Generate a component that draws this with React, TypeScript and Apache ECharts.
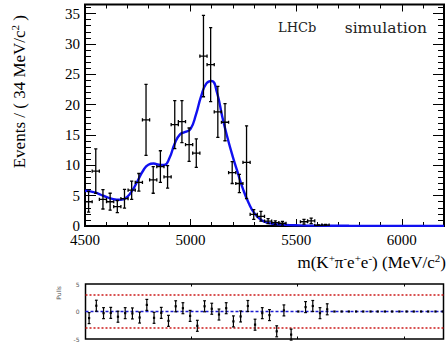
import React, { useEffect, useRef } from 'react';
import * as echarts from 'echarts';

// Binning of the K+ pi- e+ e- invariant mass
const massMin = 4500;
const massMax = 6200;
const pullMassMax = 6187;
const binWidth = 34;

// Weighted event counts per bin (null = empty bin)
const counts: (number | null)[] = [
  4.0, 9.05, 4.4, 4.0, 3.2, 4.5, 5.9, 7.2, 17.5, 7.6,
  9.8, 8.1, 16.7, 17.2, 13.4, 12.0, 28.0, 26.6, 18.8, 17.1,
  8.8, 7.0, 10.5, 1.9, 1.6, 0.8, 0.55, 0.45, null, null,
  0.7, 0.85, 0.1, 0.15,
];
const countErrors: (number | null)[] = [
  1.7, 3.65, 1.6, 1.4, 1.0, 1.55, 1.5, 1.45, 5.85, 2.2,
  2.6, 1.85, 3.95, 3.45, 2.75, 2.35, 6.7, 6.1, 4.2, 3.05,
  1.8, 1.5, 6.0, 0.8, 0.8, 0.4, 0.3, 0.3, null, null,
  0.4, 0.45, 0.1, 0.12,
];

// Fitted model curve
const curveMass = [
  4500, 4525, 4550, 4575, 4600, 4625, 4650, 4675, 4700, 4725,
  4750, 4775, 4800, 4825, 4850, 4875, 4900, 4925, 4950, 4975,
  5000, 5025, 5050, 5075, 5100, 5125, 5150, 5175, 5200, 5225,
  5250, 5275, 5300, 5325, 5350, 5375, 5400, 5450, 5500, 5600,
  5750, 6200,
];
const curveValue = [
  5.8, 5.7, 5.5, 5.15, 4.8, 4.5, 4.32, 4.35, 4.8, 5.9,
  7.5, 9.1, 10.1, 10.3, 10.1, 10.05, 11.2, 13.6, 15.1, 15.5,
  16.0, 18.3, 21.4, 23.5, 23.9, 22.0, 18.0, 14.5, 11.4, 8.6,
  5.9, 3.8, 2.2, 1.25, 0.7, 0.45, 0.3, 0.18, 0.12, 0.06,
  0.03, 0.02,
];

// Pulls per bin and their errors (0 = no entry)
const pullValues = [
  -1.2, 1.05, -0.3, -0.25, -0.95, -0.3, -0.35, -1.1, 1.2, -1.15,
  -0.25, -1.7, 0.95, 0.6, -0.8, -2.6, 0.95, 0.5, -0.55, 0.6,
  -1.8, -0.9, 1.0, -2.4, -0.3, -0.65, -3.6, 0.2, -4.2, 0,
  0.8, 1.0, -0.3, 0.4, 0, 0, 0, 0, 0, 0,
  0, 0, 0, 0, 0, 0, 0, 0, 0, 0,
];
const pullErrors = [
  1, 1, 1, 1, 1, 1, 1, 1, 1, 1,
  1, 1, 1, 1, 1, 1, 1, 1, 1, 1,
  1, 1, 1, 1, 1, 1, 1, 1, 1, 0,
  1, 1, 1, 1, 0, 0, 0, 0, 0, 0,
  0, 0, 0, 0, 0, 0, 0, 0, 0, 0,
];
const pullRefLevels = [-3, 0, 3];

const yTickLabels = [0, 5, 10, 15, 20, 25, 30, 35];
const xTickLabels = [4500, 5000, 5500, 6000];

const SERIF = 'Liberation Serif';

const binCenter = (i: number) => massMin + binWidth * (i + 0.5);

function mainX(position: string, interval: number, len: number, labels: boolean) {
  return {
    type: 'value', gridIndex: 0, position, min: massMin, max: massMax, interval,
    axisLine: { show: false, onZero: false },
    axisTick: { show: true, inside: true, length: len, lineStyle: { color: '#000', width: 1 } },
    axisLabel: {
      show: labels, margin: 6, color: '#000', fontFamily: SERIF, fontSize: 15,
      formatter: (v: number) => (xTickLabels.includes(v) ? String(v) : ''),
    },
    splitLine: { show: false },
  };
}

function mainY(position: string, interval: number, len: number, labels: boolean) {
  return {
    type: 'value', gridIndex: 0, position, min: 0, max: 36.5, interval,
    axisLine: { show: false, onZero: false },
    axisTick: { show: true, inside: true, length: len, lineStyle: { color: '#000', width: 1 } },
    axisLabel: {
      show: labels, margin: 5, color: '#000', fontFamily: SERIF, fontSize: 15,
      formatter: (v: number) => (yTickLabels.includes(v) ? String(v) : ''),
    },
    splitLine: { show: false },
  };
}

function pullX(position: string) {
  return {
    type: 'value', gridIndex: 1, position, min: massMin, max: pullMassMax, interval: 500,
    axisLine: { show: false, onZero: false },
    axisTick: { show: true, inside: true, length: 2.5, lineStyle: { color: '#000', width: 1 } },
    axisLabel: { show: false },
    splitLine: { show: false },
  };
}

export default function App() {
  const ref = useRef<HTMLDivElement>(null);

  useEffect(() => {
    if (!ref.current) return;
    const chart = echarts.init(ref.current, null, { renderer: 'svg' });

    const dataPoints: number[][] = [];
    counts.forEach((v, i) => {
      if (v !== null) dataPoints.push([binCenter(i), v, countErrors[i] as number]);
    });
    const pullPoints = pullValues.map((p, i) => [binCenter(i), p, pullErrors[i]]);
    const curve = curveMass.map((m, i) => [m, curveValue[i]]);

    const refLines = pullRefLevels.map((lvl) => ({
      type: 'line',
      xAxisIndex: 4,
      yAxisIndex: 4,
      data: [[massMin, lvl], [pullMassMax, lvl]],
      showSymbol: false,
      silent: true,
      z: 2,
      lineStyle: {
        color: lvl === 0 ? '#1a1ad0' : '#cc1a1a',
        width: 1.4,
        type: lvl === 0 ? [3, 2] : [2, 2],
      },
    }));

    const option: any = {
      animation: false,
      backgroundColor: '#fff',
      grid: [
        { left: 85, top: 4.5, width: 361, height: 221.5, show: true, borderColor: '#000', borderWidth: 2, backgroundColor: 'transparent' },
        { left: 85.5, top: 284, width: 358, height: 55, show: true, borderColor: '#000', borderWidth: 1.5, backgroundColor: 'transparent' },
      ],
      xAxis: [
        mainX('bottom', 500, 7, true),
        mainX('bottom', 100, 4, false),
        mainX('top', 500, 7, false),
        mainX('top', 100, 4, false),
        pullX('bottom'),
        pullX('top'),
      ],
      yAxis: [
        mainY('left', 5, 11, true),
        mainY('left', 1, 6, false),
        mainY('right', 5, 11, false),
        mainY('right', 1, 6, false),
        {
          type: 'value', gridIndex: 1, position: 'left', min: -5, max: 5, interval: 5,
          axisLine: { show: false, onZero: false },
          axisTick: { show: false },
          axisLabel: { show: true, margin: 6, color: '#555', fontFamily: 'DejaVu Sans', fontSize: 6 },
          splitLine: { show: false },
        },
      ],
      series: [
        {
          type: 'line',
          xAxisIndex: 0,
          yAxisIndex: 0,
          data: curve,
          smooth: 0.5,
          showSymbol: false,
          silent: true,
          z: 3,
          lineStyle: { color: '#1010f0', width: 2.4 },
        },
        {
          type: 'custom',
          xAxisIndex: 0,
          yAxisIndex: 0,
          clip: true,
          z: 4,
          data: dataPoints,
          renderItem: (params: any, api: any) => {
            const x = api.value(0);
            const y = api.value(1);
            const e = api.value(2);
            const c = api.coord([x, y]);
            const hi = api.coord([x, y + e]);
            const lo = api.coord([x, Math.max(0, y - e)]);
            const l = api.coord([x - binWidth / 2, y]);
            const r = api.coord([x + binWidth / 2, y]);
            const st = { stroke: '#000', lineWidth: 1.3 };
            const cap = 1.6;
            return {
              type: 'group',
              children: [
                { type: 'line', shape: { x1: c[0], y1: hi[1], x2: c[0], y2: lo[1] }, style: st },
                { type: 'line', shape: { x1: l[0], y1: c[1], x2: r[0], y2: c[1] }, style: st },
                { type: 'line', shape: { x1: c[0] - cap, y1: hi[1], x2: c[0] + cap, y2: hi[1] }, style: st },
                { type: 'line', shape: { x1: c[0] - cap, y1: lo[1], x2: c[0] + cap, y2: lo[1] }, style: st },
                { type: 'line', shape: { x1: l[0], y1: c[1] - cap, x2: l[0], y2: c[1] + cap }, style: st },
                { type: 'line', shape: { x1: r[0], y1: c[1] - cap, x2: r[0], y2: c[1] + cap }, style: st },
              ],
            };
          },
        },
        ...refLines,
        {
          type: 'custom',
          xAxisIndex: 4,
          yAxisIndex: 4,
          clip: false,
          z: 5,
          data: pullPoints,
          renderItem: (params: any, api: any) => {
            const x = api.value(0);
            const p = api.value(1);
            const e = api.value(2);
            const c = api.coord([x, p]);
            const children: any[] = [
              { type: 'rect', shape: { x: c[0] - 1.1, y: c[1] - 1.1, width: 2.2, height: 2.2 }, style: { fill: '#000' } },
            ];
            if (e > 0) {
              const hi = api.coord([x, p + e]);
              const lo = api.coord([x, p - e]);
              const st = { stroke: '#000', lineWidth: 1.2 };
              const cap = 1.4;
              children.push(
                { type: 'line', shape: { x1: c[0], y1: hi[1], x2: c[0], y2: lo[1] }, style: st },
                { type: 'line', shape: { x1: c[0] - cap, y1: hi[1], x2: c[0] + cap, y2: hi[1] }, style: st },
                { type: 'line', shape: { x1: c[0] - cap, y1: lo[1], x2: c[0] + cap, y2: lo[1] }, style: st },
              );
            }
            return { type: 'group', children };
          },
        },
      ],
      graphic: [
        {
          type: 'text',
          x: 19.5,
          y: 15,
          rotation: Math.PI / 2,
          style: {
            text: '{a|Events / ( 34 MeV/c}{s|2}{a| )}',
            align: 'right',
            verticalAlign: 'middle',
            rich: {
              a: { fontFamily: SERIF, fontSize: 17, lineHeight: 20, fill: '#000' },
              s: { fontFamily: SERIF, fontSize: 11, lineHeight: 8, verticalAlign: 'top', fill: '#000' },
            },
          },
        },
        {
          type: 'text',
          x: 446,
          y: 262,
          style: {
            text: '{a|m(K}{s|+}{a|π}{s|-}{a|e}{s|+}{a|e}{s|-}{a|) (MeV/c}{s|2}{a|)}',
            align: 'right',
            verticalAlign: 'middle',
            rich: {
              a: { fontFamily: SERIF, fontSize: 17, lineHeight: 20, fill: '#000' },
              s: { fontFamily: SERIF, fontSize: 11, lineHeight: 8, verticalAlign: 'top', fill: '#000' },
            },
          },
        },
        {
          type: 'text',
          x: 278,
          y: 27.5,
          style: { text: 'LHCb', fontFamily: 'DejaVu Serif', fontSize: 13, fill: '#222', align: 'left', verticalAlign: 'middle' },
        },
        {
          type: 'text',
          x: 427,
          y: 27.5,
          style: { text: 'simulation', fontFamily: 'DejaVu Serif', fontSize: 15.5, fill: '#222', align: 'right', verticalAlign: 'middle' },
        },
        {
          type: 'text',
          x: 58,
          y: 286,
          rotation: Math.PI / 2,
          style: { text: 'Pulls', fontFamily: 'DejaVu Sans', fontSize: 6, fill: '#555', align: 'right', verticalAlign: 'middle' },
        },
      ],
    };

    chart.setOption(option);
    return () => chart.dispose();
  }, []);

  return (
    <div
      ref={ref}
      style={{ position: 'fixed', left: 0, top: 0, width: 447, height: 345, background: '#fff' }}
    />
  );
}
